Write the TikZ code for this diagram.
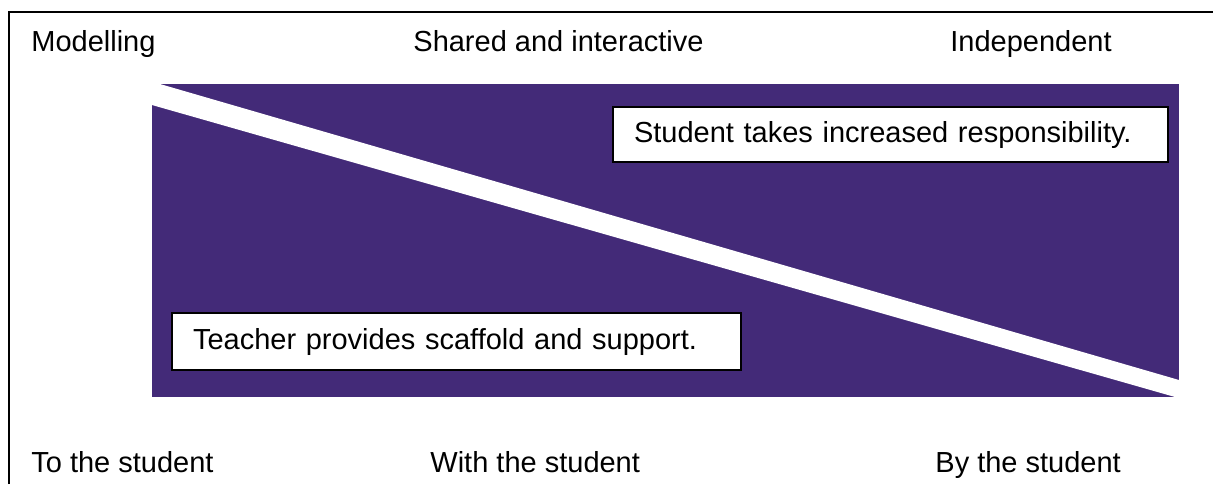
\documentclass[tikz,border=0pt]{standalone}
\usepackage{fontspec}
\setmainfont{Liberation Sans}
\usepackage{xcolor}
\definecolor{bandPurple}{HTML}{432A78}
\usepackage{tikz}
\usetikzlibrary{positioning,calc}
\tikzset{%
  stageLabel/.style={%
    anchor=base west,
    inner sep=0pt,
    font=\fontsize{14.5}{17}\selectfont
  },
  infoBox/.style={%
    rectangle,
    draw=black,
    line width=0.8pt,
    fill=white,
    inner xsep=10.5pt,
    align=left,
    font=\fontsize{14.5}{17}\selectfont
  }
}

\begin{document}
\begin{tikzpicture}[x=0.5pt,y=-0.5pt]
            \useasboundingbox (0,0) rectangle (1213,484);
            % frame
            \draw[line width=0.6pt] (9,484) -- (9,12) -- (1213,12);
            % purple panel with white stripe
            \fill[bandPurple] (152,84) rectangle (1179,397);
            \fill[white] (152,84) -- (160,84) -- (1179,380) -- (1179,397)
                -- (1175,397) -- (152,105) -- cycle;

            \node[stageLabel] (model) at (31,51) {Modelling};
            \node[stageLabel] (shared) at (413,51) {Shared and interactive};
            \node[stageLabel] (indep) at (950,51) {Independent};

            \node[stageLabel] (tostu) at (31,472) {To the student};
            \node[stageLabel] (withstu) at (430,472) {With the student};
            \node[stageLabel] (bystu) at (935,472) {By the student};

            \node[infoBox, text width=256.5pt, minimum height=27.5pt] (student) at (890.5,134.5)
                {Student takes increased responsibility.};
            \node[infoBox, text width=263.5pt, minimum height=28.5pt] (teacher) at (456.5,341.5)
                {Teacher provides scaffold and support.};
        \end{tikzpicture}
\end{document}
